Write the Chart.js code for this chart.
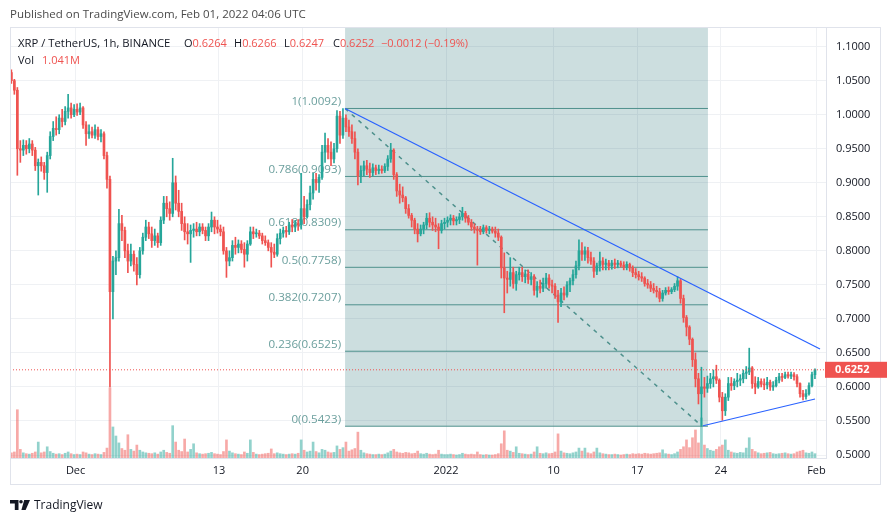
<!DOCTYPE html>
<html>
<head>
<meta charset="utf-8">
<script src="https://cdn.jsdelivr.net/npm/chart.js@4.4.1/dist/chart.umd.min.js"></script>
<style>
  html, body { margin: 0; padding: 0; background: #fff; }
  #wrap { position: relative; width: 891px; height: 521px; font-family: "Open Sans", "Liberation Sans", sans-serif; }
  #wrap canvas { position: absolute; left: 0; top: 0; }
  .txt { position: absolute; white-space: nowrap; font-size: 11px; line-height: 15px; color: #131722; }
  .r { color: #ef5350; }
  .pub { left: 10px; top: 6px; color: #4a4a4a; font-size: 11.5px; }
  .logo { position: absolute; left: 10px; top: 496px; display: flex; align-items: center; gap: 4px; font-size: 12px; color: #131722; }
</style>
</head>
<body>
<div id="wrap">
  <canvas id="grafico" width="891" height="521"></canvas>
  <div class="txt pub">Published on TradingView.com, Feb 01, 2022 04:06 UTC</div>
  <div class="txt" style="left:18px;top:35px;font-size:11.3px">XRP / TetherUS, 1h, BINANCE</div>
  <div class="txt" style="left:184px;top:35px">O<span class="r">0.6264</span></div>
  <div class="txt" style="left:234px;top:35px">H<span class="r">0.6266</span></div>
  <div class="txt" style="left:284px;top:35px">L<span class="r">0.6247</span></div>
  <div class="txt" style="left:333px;top:35px">C<span class="r">0.6252</span></div>
  <div class="txt r" style="left:381px;top:35px">−0.0012 (−0.19%)</div>
  <div class="txt" style="left:18px;top:52px">Vol</div>
  <div class="txt r" style="left:42px;top:52px">1.041M</div>
  <div class="logo">
    <svg width="20" height="10" viewBox="0 0 20 10"><path d="M0 0h8.5v10H4.8V3.4H0z" fill="#131722"/><circle cx="11" cy="1.8" r="1.8" fill="#131722"/><path d="M14.2 0h5.8L15.6 10h-4.2z" fill="#131722"/></svg>
    <span>TradingView</span>
  </div>
</div>
<script>
// velas de 6h, dias contados desde el 1 ene 2022 00:00 UTC
const startDay = -36.5;
const stepDay = 0.25;
const firstOpen = 1.062;

const closes = [
  1.050, 1.036, 0.950, 0.948, 0.955, 0.950, 0.957, 0.948, 0.925, 0.930,
  0.925, 0.915, 0.940, 0.968, 0.980, 0.978, 0.995, 0.990, 1.005, 1.010,
  1.000, 1.008, 1.004, 1.010, 0.985, 0.972, 0.975, 0.970, 0.978, 0.968,
  0.972, 0.940, 0.905, 0.740, 0.785, 0.790, 0.840, 0.830, 0.800, 0.785,
  0.795, 0.780, 0.765, 0.800, 0.820, 0.835, 0.825, 0.815, 0.822, 0.812,
  0.845, 0.870, 0.862, 0.855, 0.900, 0.870, 0.858, 0.840, 0.828, 0.825,
  0.830, 0.832, 0.828, 0.835, 0.830, 0.822, 0.835, 0.845, 0.835, 0.832,
  0.828, 0.800, 0.785, 0.790, 0.808, 0.805, 0.810, 0.802, 0.795, 0.810,
  0.828, 0.825, 0.826, 0.822, 0.815, 0.812, 0.805, 0.798, 0.795, 0.818,
  0.826, 0.830, 0.828, 0.838, 0.835, 0.840, 0.838, 0.862, 0.850, 0.868,
  0.885, 0.905, 0.900, 0.908, 0.945, 0.955, 0.945, 0.935, 0.950, 0.998,
  0.970, 0.995, 0.982, 0.975, 0.965, 0.945, 0.910, 0.918, 0.925, 0.920,
  0.915, 0.922, 0.918, 0.920, 0.918, 0.924, 0.935, 0.948, 0.912, 0.888,
  0.882, 0.878, 0.862, 0.852, 0.845, 0.832, 0.825, 0.832, 0.838, 0.848,
  0.842, 0.838, 0.835, 0.830, 0.840, 0.842, 0.845, 0.848, 0.844, 0.846,
  0.850, 0.855, 0.848, 0.842, 0.835, 0.832, 0.830, 0.828, 0.834, 0.830,
  0.832, 0.829, 0.826, 0.820, 0.775, 0.760, 0.758, 0.768, 0.752, 0.765,
  0.768, 0.762, 0.766, 0.758, 0.762, 0.742, 0.748, 0.745, 0.752, 0.760,
  0.750, 0.748, 0.735, 0.725, 0.738, 0.735, 0.750, 0.756, 0.765, 0.778,
  0.800, 0.795, 0.800, 0.790, 0.785, 0.770, 0.778, 0.785, 0.780, 0.782,
  0.778, 0.782, 0.780, 0.782, 0.779, 0.776, 0.780, 0.775, 0.768, 0.765,
  0.762, 0.760, 0.752, 0.750, 0.745, 0.742, 0.740, 0.730, 0.738, 0.742,
  0.740, 0.743, 0.748, 0.756, 0.730, 0.702, 0.688, 0.670, 0.640, 0.612,
  0.590, 0.600, 0.598, 0.605, 0.612, 0.615, 0.610, 0.585, 0.565, 0.585,
  0.605, 0.602, 0.608, 0.610, 0.612, 0.620, 0.622, 0.628, 0.605, 0.600,
  0.608, 0.604, 0.603, 0.607, 0.600, 0.602, 0.610, 0.615, 0.614, 0.618,
  0.616, 0.618, 0.615, 0.605, 0.590, 0.586, 0.590, 0.602, 0.618, 0.6252
];

const highs = [
  1.066, 1.052, 1.040, 0.962, 0.963, 0.962, 0.965, 0.962, 0.952, 0.935,
  0.938, 0.930, 0.945, 0.975, 0.990, 0.997, 1.000, 1.008, 1.012, 1.030,
  1.017, 1.015, 1.016, 1.017, 1.012, 0.990, 0.985, 0.982, 0.985, 0.982,
  0.978, 0.975, 0.945, 0.910, 0.792, 0.800, 0.861, 0.852, 0.835, 0.810,
  0.810, 0.800, 0.790, 0.805, 0.826, 0.845, 0.842, 0.835, 0.832, 0.826,
  0.850, 0.880, 0.880, 0.872, 0.936, 0.910, 0.889, 0.870, 0.850, 0.840,
  0.838, 0.840, 0.842, 0.840, 0.840, 0.835, 0.840, 0.857, 0.850, 0.845,
  0.838, 0.835, 0.805, 0.800, 0.815, 0.820, 0.816, 0.815, 0.812, 0.815,
  0.835, 0.835, 0.832, 0.830, 0.826, 0.822, 0.816, 0.812, 0.810, 0.825,
  0.832, 0.835, 0.836, 0.842, 0.846, 0.845, 0.846, 0.914, 0.880, 0.875,
  0.895, 0.914, 0.914, 0.912, 0.955, 0.973, 0.965, 0.960, 0.958, 1.006,
  1.005, 1.0092, 1.000, 0.992, 0.985, 0.975, 0.950, 0.925, 0.932, 0.933,
  0.929, 0.928, 0.926, 0.926, 0.925, 0.928, 0.940, 0.958, 0.950, 0.915,
  0.898, 0.894, 0.880, 0.868, 0.855, 0.848, 0.840, 0.838, 0.842, 0.855,
  0.856, 0.850, 0.848, 0.840, 0.845, 0.848, 0.850, 0.853, 0.852, 0.850,
  0.855, 0.864, 0.858, 0.852, 0.846, 0.840, 0.836, 0.836, 0.838, 0.837,
  0.836, 0.835, 0.835, 0.832, 0.822, 0.797, 0.770, 0.790, 0.776, 0.770,
  0.776, 0.776, 0.772, 0.772, 0.768, 0.765, 0.755, 0.757, 0.760, 0.767,
  0.765, 0.757, 0.752, 0.742, 0.745, 0.747, 0.755, 0.760, 0.772, 0.785,
  0.816, 0.812, 0.806, 0.805, 0.798, 0.790, 0.782, 0.798, 0.790, 0.788,
  0.786, 0.786, 0.788, 0.786, 0.785, 0.784, 0.784, 0.782, 0.778, 0.774,
  0.770, 0.768, 0.762, 0.758, 0.755, 0.752, 0.748, 0.745, 0.742, 0.746,
  0.747, 0.746, 0.752, 0.762, 0.758, 0.735, 0.705, 0.690, 0.672, 0.650,
  0.620, 0.629, 0.614, 0.616, 0.620, 0.625, 0.632, 0.612, 0.592, 0.590,
  0.614, 0.614, 0.612, 0.620, 0.618, 0.625, 0.630, 0.657, 0.630, 0.615,
  0.614, 0.612, 0.612, 0.614, 0.610, 0.608, 0.614, 0.620, 0.620, 0.622,
  0.622, 0.622, 0.621, 0.618, 0.606, 0.595, 0.596, 0.606, 0.622, 0.6266
];

const lows = [
  1.046, 1.030, 0.911, 0.930, 0.940, 0.942, 0.944, 0.940, 0.918, 0.882,
  0.917, 0.905, 0.886, 0.935, 0.962, 0.970, 0.972, 0.982, 0.985, 0.995,
  0.995, 0.997, 0.999, 1.000, 0.980, 0.955, 0.965, 0.966, 0.965, 0.963,
  0.960, 0.935, 0.892, 0.600, 0.700, 0.765, 0.785, 0.815, 0.790, 0.768,
  0.778, 0.770, 0.750, 0.760, 0.795, 0.815, 0.818, 0.805, 0.808, 0.805,
  0.808, 0.840, 0.850, 0.845, 0.850, 0.860, 0.850, 0.830, 0.816, 0.810,
  0.783, 0.820, 0.822, 0.822, 0.825, 0.815, 0.815, 0.828, 0.825, 0.826,
  0.822, 0.795, 0.761, 0.778, 0.785, 0.795, 0.797, 0.797, 0.776, 0.785,
  0.808, 0.818, 0.820, 0.818, 0.810, 0.808, 0.800, 0.776, 0.790, 0.792,
  0.810, 0.820, 0.820, 0.824, 0.828, 0.828, 0.830, 0.832, 0.840, 0.848,
  0.860, 0.876, 0.889, 0.886, 0.905, 0.930, 0.935, 0.925, 0.929, 0.945,
  0.958, 0.965, 0.975, 0.968, 0.958, 0.935, 0.897, 0.900, 0.910, 0.912,
  0.908, 0.910, 0.912, 0.913, 0.914, 0.915, 0.918, 0.930, 0.905, 0.880,
  0.870, 0.872, 0.855, 0.848, 0.835, 0.825, 0.813, 0.822, 0.825, 0.832,
  0.835, 0.830, 0.828, 0.803, 0.826, 0.832, 0.835, 0.838, 0.838, 0.838,
  0.840, 0.845, 0.842, 0.838, 0.830, 0.826, 0.779, 0.824, 0.825, 0.826,
  0.825, 0.826, 0.820, 0.815, 0.760, 0.709, 0.738, 0.748, 0.745, 0.742,
  0.757, 0.755, 0.753, 0.752, 0.750, 0.735, 0.732, 0.738, 0.740, 0.745,
  0.745, 0.738, 0.730, 0.695, 0.718, 0.728, 0.732, 0.740, 0.750, 0.760,
  0.772, 0.786, 0.786, 0.782, 0.780, 0.761, 0.765, 0.770, 0.772, 0.772,
  0.772, 0.773, 0.774, 0.775, 0.776, 0.772, 0.772, 0.770, 0.762, 0.760,
  0.757, 0.755, 0.748, 0.745, 0.740, 0.738, 0.732, 0.725, 0.726, 0.735,
  0.736, 0.737, 0.740, 0.742, 0.723, 0.695, 0.675, 0.662, 0.630, 0.600,
  0.575, 0.5423, 0.585, 0.592, 0.598, 0.600, 0.605, 0.578, 0.551, 0.558,
  0.580, 0.595, 0.596, 0.600, 0.602, 0.606, 0.612, 0.618, 0.598, 0.590,
  0.598, 0.600, 0.596, 0.597, 0.595, 0.595, 0.600, 0.606, 0.608, 0.612,
  0.613, 0.612, 0.610, 0.600, 0.585, 0.581, 0.582, 0.588, 0.600, 0.612
];

// volumen en millones de XRP
const volumes = [
  12, 14, 112, 20, 12, 10, 9, 11, 14, 37,
  12, 14, 26, 15, 11, 9, 10, 8, 11, 14,
  10, 8, 9, 8, 14, 12, 9, 8, 10, 9,
  8, 13, 23, 163, 72, 51, 35, 22, 18, 54,
  20, 16, 30, 18, 14, 12, 11, 10, 12, 9,
  14, 18, 13, 11, 75, 37, 18, 15, 44, 14,
  20, 33, 12, 10, 9, 10, 11, 13, 10, 9,
  8, 15, 42, 16, 12, 10, 9, 8, 14, 11,
  42, 13, 9, 8, 9, 10, 11, 21, 10, 12,
  10, 9, 8, 9, 10, 9, 11, 42, 18, 14,
  16, 37, 15, 12, 20, 18, 14, 12, 13, 28,
  20, 24, 37, 16, 19, 22, 60, 18, 12, 10,
  9, 8, 8, 9, 8, 9, 12, 16, 20, 14,
  12, 11, 13, 12, 10, 11, 16, 10, 9, 11,
  9, 8, 9, 18, 9, 8, 8, 9, 8, 7,
  8, 11, 9, 8, 9, 8, 14, 8, 7, 8,
  7, 7, 8, 10, 33, 63, 18, 16, 13, 26,
  11, 10, 9, 8, 9, 14, 26, 11, 10, 12,
  10, 11, 14, 56, 16, 12, 11, 10, 12, 14,
  23, 16, 23, 12, 10, 14, 23, 12, 10, 9,
  8, 8, 9, 8, 7, 8, 9, 8, 10, 9,
  10, 9, 11, 10, 9, 10, 11, 12, 19, 10,
  9, 8, 10, 14, 20, 26, 42, 24, 47, 65,
  35, 93, 30, 22, 18, 16, 20, 26, 30, 42,
  18, 14, 12, 11, 13, 12, 23, 47, 20, 15,
  12, 10, 11, 12, 13, 10, 9, 10, 11, 12,
  10, 9, 10, 14, 16, 18, 12, 11, 14, 10
];

const tickDays = [-31, -19, -12, 0, 9, 16, 23, 31];
const tickLabels = ["Dec", "13", "20", "2022", "10", "17", "24", "Feb"];
const priceTicks = [0.5, 0.55, 0.6, 0.65, 0.7, 0.75, 0.8, 0.85, 0.9, 0.95, 1.0, 1.05, 1.1];

const fibLevels = [1, 0.786, 0.618, 0.5, 0.382, 0.236, 0];
const fibPrices = [1.0092, 0.9093, 0.8309, 0.7758, 0.7207, 0.6525, 0.5423];
const fibStart = -8.45;
const fibEnd = 21.92;
const fibDiagEnd = 21.42;

const upperTrend = [{ x: -8.45, y: 1.0092 }, { x: 31.3, y: 0.6557 }];
const lowerTrend = [{ x: 21.51, y: 0.5430 }, { x: 30.88, y: 0.5823 }];
const lastPrice = 0.6252;

const X_MIN = -36.49, X_MAX = 31.8;
const Y_MIN = 0.4956, Y_MAX = 1.1289;

const VERDE = "#26a69a", ROJO = "#ef5350";

const velas = closes.map((c, i) => ({
  t: startDay + (i + 0.5) * stepDay,
  o: i === 0 ? firstOpen : closes[i - 1],
  h: highs[i],
  l: lows[i],
  c: c
}));
const colores = velas.map(v => (v.c >= v.o ? VERDE : ROJO));
const coloresVol = velas.map(v => (v.c >= v.o ? "rgba(38,166,154,0.5)" : "rgba(239,83,80,0.5)"));

const fontCanvas = '"Open Sans", "Liberation Sans", sans-serif';

const fibPlugin = {
  id: "fib",
  beforeDatasetsDraw(chart) {
    const { ctx, chartArea: a, scales } = chart;
    const x0 = scales.x.getPixelForValue(fibStart);
    const x1 = scales.x.getPixelForValue(fibEnd);
    const yb = scales.y.getPixelForValue(fibPrices[fibPrices.length - 1]);
    ctx.save();
    ctx.beginPath();
    ctx.rect(a.left, a.top, a.right - a.left, a.bottom - a.top);
    ctx.clip();
    ctx.fillStyle = "rgba(0,92,96,0.2)";
    ctx.fillRect(x0, a.top, x1 - x0, yb - a.top);
    ctx.font = "11.6px " + fontCanvas;
    ctx.fillStyle = "#6b9f9d";
    ctx.textAlign = "right";
    ctx.textBaseline = "middle";
    fibLevels.forEach((lv, i) => {
      const yy = scales.y.getPixelForValue(fibPrices[i]);
      ctx.fillText(lv + "(" + fibPrices[i].toFixed(4) + ")", x0 - 4, yy - 7);
    });
    ctx.restore();
  }
};

const marcoPlugin = {
  id: "marco",
  afterDraw(chart) {
    const { ctx, chartArea: a, scales } = chart;
    ctx.save();
    ctx.strokeStyle = "#e0e3eb";
    ctx.lineWidth = 1;
    ctx.strokeRect(a.left + 0.5, a.top + 0.5, 870, 457);
    const yy = scales.y.getPixelForValue(lastPrice);
    ctx.fillStyle = ROJO;
    ctx.fillRect(a.right - 1, yy - 8, 62, 16);
    ctx.fillStyle = "#fff";
    ctx.font = "bold 11px " + fontCanvas;
    ctx.textAlign = "left";
    ctx.textBaseline = "middle";
    ctx.fillText(lastPrice.toFixed(4), a.right + 9, yy + 0.5);
    ctx.restore();
  }
};

function linea(data, color, extra) {
  return Object.assign({
    type: "line",
    data: data,
    borderColor: color,
    borderWidth: 1,
    pointRadius: 0,
    tension: 0,
    xAxisID: "x",
    yAxisID: "y"
  }, extra || {});
}

function dibujar() {
  const datasets = [];

  datasets.push({
    type: "bar",
    data: velas.map((v, i) => ({ x: v.t, y: volumes[i] })),
    backgroundColor: coloresVol,
    barThickness: 2,
    grouped: false,
    xAxisID: "x",
    yAxisID: "yv",
    order: 10
  });

  fibPrices.forEach(p => {
    datasets.push(linea([{ x: fibStart, y: p }, { x: fibEnd, y: p }], "#4e918d", { order: 8 }));
  });

  datasets.push(linea([{ x: fibStart, y: fibPrices[0] }, { x: fibDiagEnd, y: fibPrices[fibPrices.length - 1] }],
    "#4e918d", { borderDash: [4, 5], borderWidth: 1.5, order: 7 }));

  datasets.push({
    type: "bar",
    data: velas.map(v => ({ x: v.t, y: [v.l, v.h] })),
    backgroundColor: colores,
    barThickness: 1,
    grouped: false,
    xAxisID: "x",
    yAxisID: "y",
    order: 6
  });

  datasets.push({
    type: "bar",
    data: velas.map(v => ({ x: v.t, y: [v.o, v.c] })),
    backgroundColor: colores,
    barThickness: 2,
    minBarLength: 1,
    grouped: false,
    xAxisID: "x",
    yAxisID: "y",
    order: 5
  });

  datasets.push(linea(upperTrend, "#2962ff", { borderWidth: 1.2, order: 3 }));
  datasets.push(linea(lowerTrend, "#2962ff", { borderWidth: 1.2, order: 3 }));
  datasets.push(linea([{ x: X_MIN, y: lastPrice }, { x: X_MAX, y: lastPrice }], ROJO, { borderDash: [1, 2], order: 2 }));

  new Chart(document.getElementById("grafico"), {
    type: "bar",
    data: { datasets: datasets },
    options: {
      responsive: false,
      animation: false,
      events: [],
      layout: { padding: { left: 10, top: 27, right: 10, bottom: 36 } },
      plugins: {
        legend: { display: false },
        tooltip: { enabled: false }
      },
      scales: {
        x: {
          type: "linear",
          min: X_MIN,
          max: X_MAX,
          offset: false,
          afterBuildTicks: s => { s.ticks = tickDays.map(v => ({ value: v })); },
          afterFit: s => { s.height = 27; },
          grid: { color: "#eff1f4", drawTicks: false, offset: false },
          border: { display: true, color: "#e0e3eb" },
          ticks: {
            padding: 6,
            maxRotation: 0,
            autoSkip: false,
            color: "#131722",
            font: { family: fontCanvas, size: 11 },
            callback: (v, i) => tickLabels[i]
          }
        },
        y: {
          type: "linear",
          position: "right",
          min: Y_MIN,
          max: Y_MAX,
          afterBuildTicks: s => { s.ticks = priceTicks.map(v => ({ value: v })); },
          afterFit: s => { s.width = 55; },
          grid: { color: "#eff1f4", drawTicks: false },
          border: { display: true, color: "#e0e3eb" },
          ticks: {
            padding: 10,
            color: "#131722",
            font: { family: fontCanvas, size: 11 },
            callback: v => Number(v).toFixed(4)
          }
        },
        yv: {
          type: "linear",
          display: false,
          min: 0,
          max: 1000
        }
      }
    },
    plugins: [fibPlugin, marcoPlugin]
  });
}

document.addEventListener("DOMContentLoaded", () => {
  document.fonts.load('11px "Open Sans"').then(dibujar, dibujar);
});
</script>
</body>
</html>
